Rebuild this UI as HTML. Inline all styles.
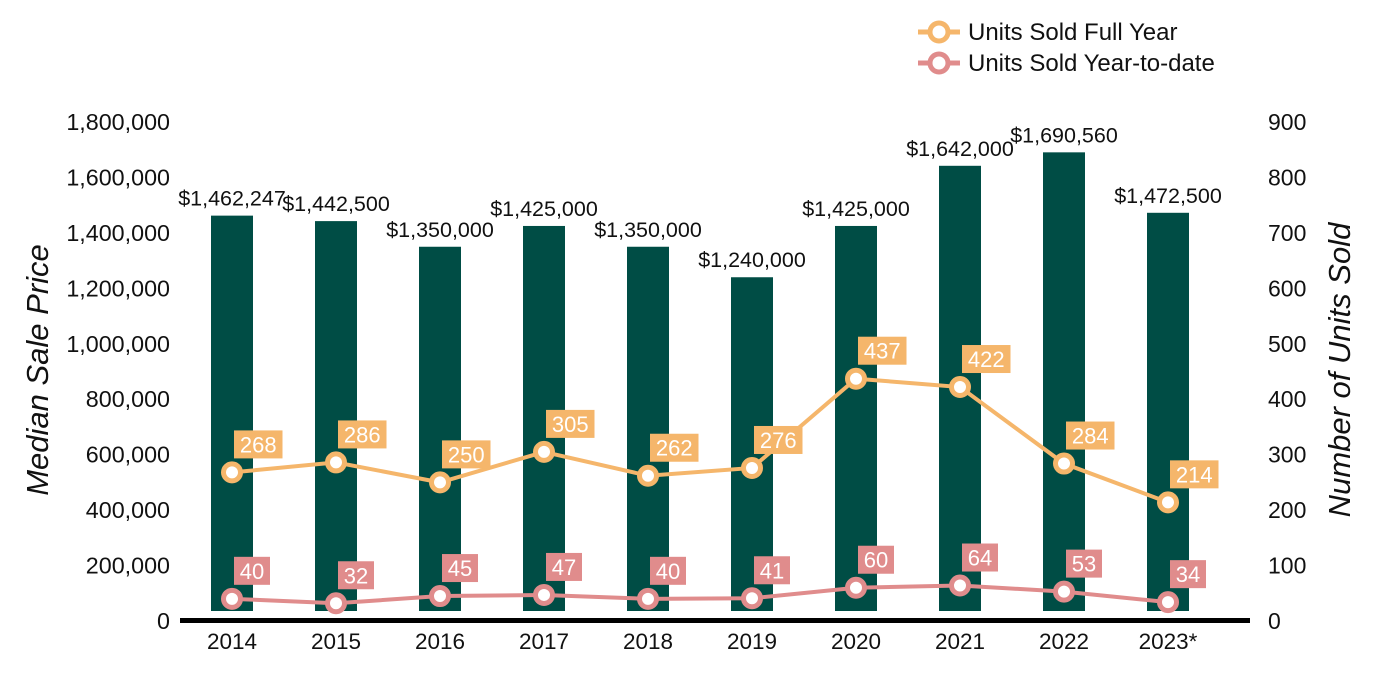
<!DOCTYPE html>
<html><head><meta charset="utf-8"><style>
body{margin:0;background:#fff;}
svg{display:block;font-family:"Liberation Sans",Arial,sans-serif;}
</style></head><body>
<svg id="chart" width="1400" height="700">
<g id="legend">
 <g>
  <line x1="918" y1="32" x2="960" y2="32" stroke="#f5b66b" stroke-width="5"/>
  <circle cx="939" cy="32" r="9" fill="#fff" stroke="#f5b66b" stroke-width="5"/>
  <text x="968" y="40" font-size="24" fill="#111">Units Sold Full Year</text>
 </g>
 <g>
  <line x1="918" y1="63" x2="960" y2="63" stroke="#e08c8c" stroke-width="5"/>
  <circle cx="939" cy="63" r="9" fill="#fff" stroke="#e08c8c" stroke-width="5"/>
  <text x="968" y="71" font-size="24" fill="#111">Units Sold Year-to-date</text>
 </g>
</g>
<text transform="translate(48,370) rotate(-90)" text-anchor="middle" font-size="31" font-style="italic" fill="#111">Median Sale Price</text>
<text transform="translate(1350,370) rotate(-90)" text-anchor="middle" font-size="31" font-style="italic" fill="#111">Number of Units Sold</text>
<g id="marks"></g>
</svg>
<script>
const categories=["2014","2015","2016","2017","2018","2019","2020","2021","2022","2023*"];
const prices=[1462247,1442500,1350000,1425000,1350000,1240000,1425000,1642000,1690560,1472500];
const priceLabels=["$1,462,247","$1,442,500","$1,350,000","$1,425,000","$1,350,000","$1,240,000","$1,425,000","$1,642,000","$1,690,560","$1,472,500"];
const fullYear=[268,286,250,305,262,276,437,422,284,214];
const ytd=[40,32,45,47,40,41,60,64,53,34];
const leftTicks=[0,200000,400000,600000,800000,1000000,1200000,1400000,1600000,1800000];
const rightTicks=[0,100,200,300,400,500,600,700,800,900];

const NS="http://www.w3.org/2000/svg";
const g=document.getElementById('marks');
const y0=621,yTop=122;
const yL=v=>y0-(v/1800000)*(y0-yTop);
const yR=v=>y0-(v/900)*(y0-yTop);
const xC=i=>232+i*104;
function mk(tag,attrs,parent){const e=document.createElementNS(NS,tag);for(const k in attrs)e.setAttribute(k,attrs[k]);(parent||g).appendChild(e);return e;}

leftTicks.forEach(t=>{const e=mk('text',{x:170,y:yL(t)+8,'text-anchor':'end','font-size':23.3,fill:'#111'});e.textContent=t.toLocaleString('en-US');

});
rightTicks.forEach(t=>{const e=mk('text',{x:1268,y:yR(t)+8,'font-size':23,fill:'#111'});e.textContent=t;

});

categories.forEach((c,i)=>{
 const b=mk('rect',{x:xC(i)-21,y:yL(prices[i]),width:42,height:611-yL(prices[i]),fill:'#004d45'});
 
 
 const t=mk('text',{x:xC(i),y:yL(prices[i])-10,'text-anchor':'middle','font-size':21.5,fill:'#111'});t.textContent=priceLabels[i];
 
 
 const xl=mk('text',{x:xC(i),y:649,'text-anchor':'middle','font-size':22.5,fill:'#111'});xl.textContent=c;
 
 
});
const ax=mk('rect',{x:180,y:618,width:1070,height:5,fill:'#000'});



function series(vals,color,name){
 const pl=mk('polyline',{points:vals.map((v,i)=>xC(i)+','+yR(v)).join(' '),fill:'none',stroke:color,'stroke-width':4});
 
 
 vals.forEach((v,i)=>{
  const cx=xC(i),cy=yR(v);
  const p=mk('circle',{cx:cx,cy:cy,r:8.5,fill:'#fff',stroke:color,'stroke-width':5});
  
  
  const w=String(v).length*12.5+11;
  const r=mk('rect',{x:cx+2,y:cy-42,width:w,height:28,fill:color});
  
  
  const t=mk('text',{x:cx+2+w/2,y:cy-20,'text-anchor':'middle','font-size':22,fill:'#fff'});t.textContent=v;
  
  
 });
}
series(fullYear,'#f5b66b','full-year');
series(ytd,'#e08c8c','ytd');
</script>
</body></html>
